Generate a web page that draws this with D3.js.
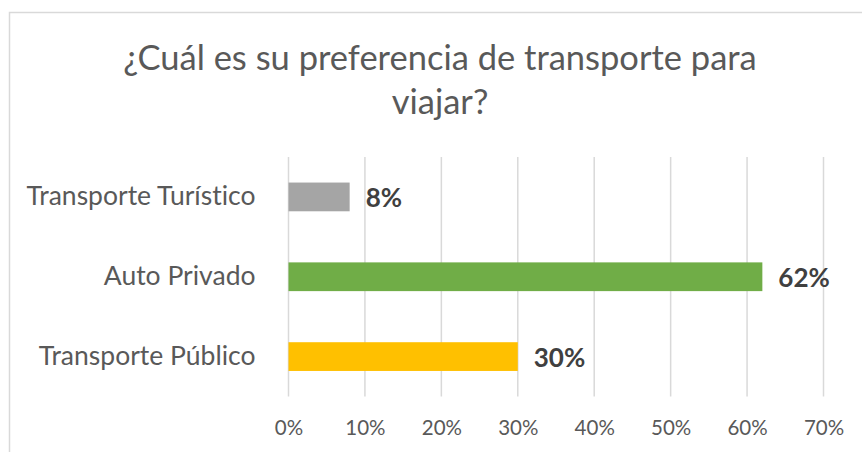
<!DOCTYPE html>
<html><head><meta charset="utf-8">
<script src="https://cdn.jsdelivr.net/npm/d3@7"></script>
<style>body{margin:0;background:#fff}svg{display:block}text{font-variant-ligatures:none;font-feature-settings:"liga" 0,"clig" 0}</style>
</head><body><svg id="c" width="862" height="452"></svg>
<script>
const categories = ["Transporte Turístico", "Auto Privado", "Transporte Público"];
const values = [0.08, 0.62, 0.30];
const colors = ["#a5a5a5", "#70ad47", "#ffc000"];
const tickValues = [0, 0.1, 0.2, 0.3, 0.4, 0.5, 0.6, 0.7];
const titleLines = ["¿Cuál es su preferencia de transporte para", "viajar?"];

const svg = d3.select("#c");
const FONT = "Lato, 'Open Sans', sans-serif";
svg.append("rect").attr("x", 9.5).attr("y", 12.5).attr("width", 900).attr("height", 500)
  .attr("fill", "#fff").attr("stroke", "#d9d9d9").attr("stroke-width", 1.5);

const x = d3.scaleLinear().domain([0, 0.7]).range([288.5, 823.5]);
const y = d3.scaleBand().domain(categories).range([157, 396.5]).paddingInner(0.64).paddingOuter(0.32);

// gridlines
svg.append("g").selectAll("line").data(tickValues).join("line")
  .attr("x1", d => x(d)).attr("x2", d => x(d)).attr("y1", 157).attr("y2", 396.5)
  .attr("stroke", "#d9d9d9").attr("stroke-width", 1.5);

// x axis
const xa = svg.append("g").attr("transform", "translate(0,396.5)")
  .call(d3.axisBottom(x).tickValues(tickValues).tickFormat(d3.format(".0%")).tickSize(0).tickPadding(24));
xa.select(".domain").remove();
xa.selectAll("text").attr("fill", "#595959").style("font-family", FONT).style("font-size", "20.5px");

// y axis
const ya = svg.append("g").attr("transform", "translate(288.5,0)")
  .call(d3.axisLeft(y).tickSize(0).tickPadding(33));
ya.select(".domain").remove();
ya.selectAll("text").attr("fill", "#595959").style("font-family", FONT).style("font-size", "26.5px");

// bars
svg.append("g").selectAll("rect").data(values).join("rect")
  .attr("x", x(0)).attr("y", (d, i) => y(categories[i]))
  .attr("width", d => x(d) - x(0)).attr("height", y.bandwidth())
  .attr("fill", (d, i) => colors[i]);

// labels
svg.append("g").selectAll("text").data(values).join("text")
  .attr("x", d => x(d) + 16).attr("y", (d, i) => y(categories[i]) + y.bandwidth() / 2 + 1)
  .attr("dy", "0.36em").attr("fill", "#404040").style("font-family", FONT)
  .style("font-size", "26px").style("font-weight", "bold")
  .text(d => d3.format(".0%")(d));

// title
svg.append("g").selectAll("text").data(titleLines).join("text")
  .attr("x", 440).attr("y", (d, i) => 69.5 + i * 44)
  .attr("text-anchor", "middle").attr("fill", "#595959")
  .style("font-family", FONT).style("font-size", "34.5px")
  .text(d => d);
</script></body></html>
